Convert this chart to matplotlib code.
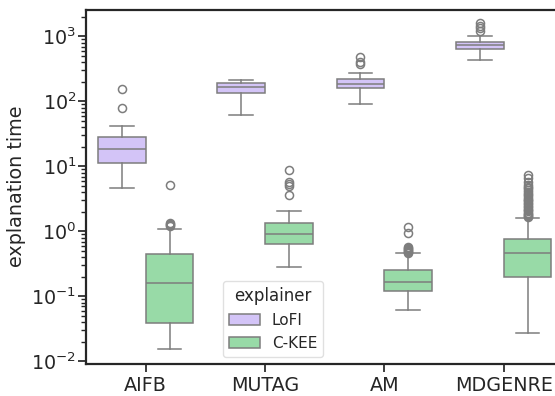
import matplotlib
matplotlib.use("Agg")
import matplotlib.pyplot as plt
from matplotlib.patches import Patch

# datasets and the two explainers
datasets = ["AIFB", "MUTAG", "AM", "MDGENRE"]
explainers = ["LoFI", "C-KEE"]

# box statistics (seconds, log axis)
lofi_med = [18.4, 165, 186, 733]
lofi_q1 = [11.3, 136, 160, 643]
lofi_q3 = [28.4, 190, 220, 832]
lofi_lo = [4.6, 62, 91, 430]
lofi_hi = [42.4, 216, 277, 1018]
lofi_fliers = [
    [155, 79],
    [],
    [479, 410, 373],
    [1597, 1452, 1337, 1228],
]

ckee_med = [0.16, 0.92, 0.165, 0.46]
ckee_q1 = [0.039, 0.63, 0.122, 0.20]
ckee_q3 = [0.455, 1.35, 0.253, 0.76]
ckee_lo = [0.0156, 0.284, 0.061, 0.027]
ckee_hi = [1.08, 2.05, 0.47, 1.6]
ckee_fliers = [
    [5.1, 1.36, 1.3, 1.25, 1.22],
    [8.8, 5.7, 5.3, 5.0, 3.7],
    [1.19, 0.96, 0.58, 0.56, 0.54, 0.52, 0.5, 0.49, 0.47],
    [7.5, 6.6, 5.7, 5.2, 4.9, 4.6, 4.3, 4.0, 3.8, 3.6, 3.4, 3.2, 3.05,
     2.9, 2.75, 2.6, 2.5, 2.35, 2.25, 2.15, 2.05, 1.95, 1.88, 1.8, 1.72, 1.65],
]

colors = ["#d3c4f7", "#98daa7"]
line_gray = "#7d7d7d"
dark = "#262626"


def make_stats(med, q1, q3, lo, hi, fliers):
    stats = []
    for i in range(len(med)):
        stats.append({"med": med[i], "q1": q1[i], "q3": q3[i],
                      "whislo": lo[i], "whishi": hi[i], "fliers": fliers[i]})
    return stats


all_stats = [
    make_stats(lofi_med, lofi_q1, lofi_q3, lofi_lo, lofi_hi, lofi_fliers),
    make_stats(ckee_med, ckee_q1, ckee_q3, ckee_lo, ckee_hi, ckee_fliers),
]

plt.rcParams["font.family"] = "DejaVu Sans"
fig = plt.figure(figsize=(5.55, 3.96), dpi=100)
ax = fig.add_axes([0.155, 0.081, 0.86, 0.895])

lw = 1.1
offsets = [-0.2, 0.2]
for k in range(len(explainers)):
    pos = [i + offsets[k] for i in range(len(datasets))]
    ax.bxp(
        all_stats[k], positions=pos, widths=0.4, patch_artist=True,
        boxprops=dict(facecolor=colors[k], edgecolor=line_gray, linewidth=lw),
        medianprops=dict(color=line_gray, linewidth=lw),
        whiskerprops=dict(color=line_gray, linewidth=lw),
        capprops=dict(color=line_gray, linewidth=lw),
        flierprops=dict(marker="o", markersize=5.8, markerfacecolor="none",
                        markeredgecolor=line_gray, markeredgewidth=lw),
        manage_ticks=False,
    )

ax.set_yscale("log")
ax.set_ylim(0.00915, 2600)
ax.set_xlim(-0.5, 3.5)
ax.set_xticks(range(len(datasets)))
ax.set_xticklabels(datasets)
ax.set_ylabel("explanation time", fontsize=13.75, color=dark)

ax.tick_params(axis="both", which="major", labelsize=13.75, length=5.5,
               width=1.25, color=dark, labelcolor=dark)
ax.tick_params(axis="y", which="major", pad=1.5)
ax.tick_params(axis="y", which="minor", length=3.5, width=1, color=dark)
for sp in ax.spines.values():
    sp.set_linewidth(1.6)
    sp.set_color(dark)

handles = [Patch(facecolor=colors[k], edgecolor=line_gray, linewidth=lw,
                 label=explainers[k]) for k in range(len(explainers))]
leg = ax.legend(handles=handles, title="explainer", loc="lower left",
                bbox_to_anchor=(0.287, 0.02), borderaxespad=0,
                fontsize=11, title_fontsize=12, edgecolor="0.85")
for t in leg.get_texts():
    t.set_color(dark)
leg.get_title().set_color(dark)

fig.savefig("out.png", dpi=100)
